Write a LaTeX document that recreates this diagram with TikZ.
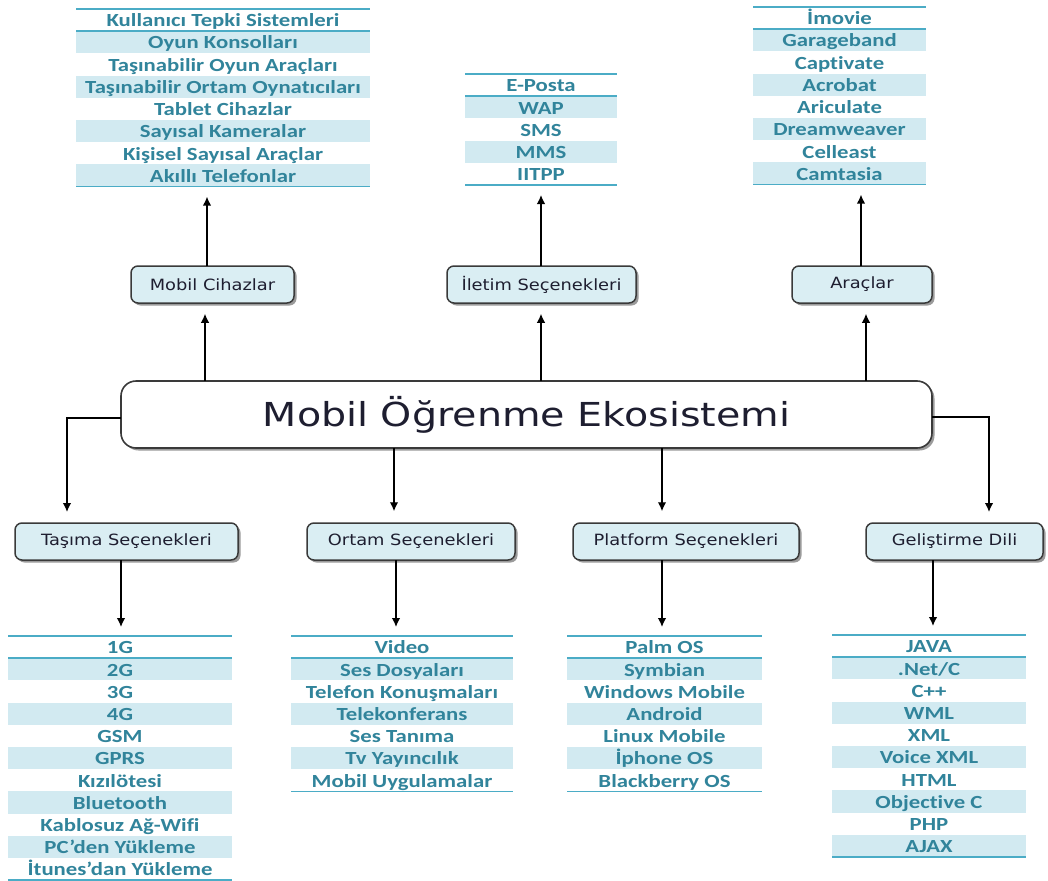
\documentclass[tikz,border=0pt]{standalone}
\usepackage{fontspec}
\setmainfont{Carlito}[Ligatures=NoCommon]
\newfontfamily\vfont{DejaVu Sans}
\usepackage{graphicx}
\usetikzlibrary{arrows.meta,shadows}
\definecolor{rowfill}{HTML}{D2EAF1}
\definecolor{rulec}{HTML}{4BACC6}
\definecolor{itemc}{HTML}{31849B}
\definecolor{catfill}{HTML}{DAEEF3}
\definecolor{bordc}{HTML}{3A3A3A}
\definecolor{cattext}{HTML}{1E1E30}
\newcommand{\hs}[2]{\scalebox{#1}[1]{#2}}
\tikzset{
  item/.style={font=\fontsize{18.5}{20}\selectfont\bfseries, text=itemc, inner sep=0pt, text height=12.5pt, text depth=3.5pt},
  rulel/.style={draw=rulec, line width=1.5pt},
  catbox/.style={draw=bordc, line width=1.5pt, fill=catfill, rounded corners=7pt, minimum height=37pt, inner sep=0pt,
     font=\vfont\fontsize{15.5}{18}\selectfont, text=cattext,
     drop shadow={shadow xshift=2.5pt, shadow yshift=-2.5pt, opacity=0.6, fill=black!65}},
  centerbox/.style={draw=bordc, line width=1.6pt, fill=white, rounded corners=15pt, minimum width=811pt, minimum height=67pt, inner sep=0pt,
     font=\vfont\fontsize{33}{36}\selectfont, text=cattext,
     drop shadow={shadow xshift=2.5pt, shadow yshift=-2.5pt, opacity=0.6, fill=black!65}},
  conn/.style={draw=black, line width=1.4pt, -{Latex[length=9pt,width=8.5pt]}},
}
\newcommand{\drawlist}[6]{%
  \foreach \t [count=\i] in {#6} {%
    \pgfmathsetmacro{\ya}{#4+(\i-1)*22.2}%
    \pgfmathsetmacro{\yb}{#4+\i*22.2}%
    \ifodd\i\relax\else\fill[rowfill] ({#2},\ya) rectangle ({#3},\yb);\fi
    \node[item] (#1-\i) at ({(#2+#3)/2},{(\ya+\yb)/2+2.2}) {\hs{1.23}{\t}};
  }%
  \draw[rulel] ({#2},{#4}) -- ({#3},{#4});
  \draw[rulel] ({#2},{#4+22.2}) -- ({#3},{#4+22.2});
  \draw[rulel] ({#2},{#4+#5*22.2}) -- ({#3},{#4+#5*22.2});
  \coordinate (#1-top) at ({(#2+#3)/2},{#4});
  \coordinate (#1-bot) at ({(#2+#3)/2},{#4+#5*22.2});
}
\begin{document}
\begin{tikzpicture}[x=1pt,y=-1pt]
\useasboundingbox (0,0) rectangle (1048,880);
\fill[white] (0,0) rectangle (1048,880);

% lists
\drawlist{L1}{76}{370}{9}{8}{Kullanıcı Tepki Sistemleri,Oyun Konsolları,Taşınabilir Oyun Araçları,Taşınabilir Ortam Oynatıcıları,Tablet Cihazlar,Sayısal Kameralar,Kişisel Sayısal Araçlar,Akıllı Telefonlar}
\drawlist{L2}{465}{617}{74}{5}{E-Posta,WAP,SMS,MMS,IITPP}
\drawlist{L3}{753}{926}{7}{8}{İmovie,Garageband,Captivate,Acrobat,Ariculate,Dreamweaver,Celleast,Camtasia}
\drawlist{L4}{8}{232}{636}{11}{1G,2G,3G,4G,GSM,GPRS,Kızılötesi,Bluetooth,Kablosuz Ağ-Wifi,PC’den Yükleme,İtunes’dan Yükleme}
\drawlist{L5}{291}{513}{636}{7}{Video,Ses Dosyaları,Telefon Konuşmaları,Telekonferans,Ses Tanıma,Tv Yayıncılık,Mobil Uygulamalar}
\drawlist{L6}{567}{762}{636}{7}{Palm OS,Symbian,Windows Mobile,Android,Linux Mobile,İphone OS,Blackberry OS}
\drawlist{L7}{832}{1026}{635}{10}{JAVA,.Net/C,C++,WML,XML,Voice XML,HTML,Objective C,PHP,AJAX}

% center
\node[centerbox] (ce) at (526.5,414.5) {\hs{1.2}{Mobil Öğrenme Ekosistemi}};

% category boxes
\node[catbox, minimum width=163pt] (mc) at (212.5,284.5) {\hs{1.15}{Mobil Cihazlar}};
\node[catbox, minimum width=189pt] (il) at (541.5,284.5) {\hs{1.15}{İletim Seçenekleri}};
\node[catbox, minimum width=140pt] (ar) at (862,284.5) {\hs{1.15}{Araçlar}};
\node[catbox, minimum width=223pt] (ts) at (126.5,541.5) {\hs{1.15}{Taşıma Seçenekleri}};
\node[catbox, minimum width=208pt] (os) at (411,541.5) {\hs{1.15}{Ortam Seçenekleri}};
\node[catbox, minimum width=226pt] (ps) at (686,541.5) {\hs{1.15}{Platform Seçenekleri}};
\node[catbox, minimum width=177pt] (gd) at (954.5,541.5) {\hs{1.15}{Geliştirme Dili}};

% connector anchor coordinates
\coordinate (c1) at (205,381);
\coordinate (c2) at (541,381);
\coordinate (c3) at (866,381);
\coordinate (m1) at (207,266);
\coordinate (m2) at (541,266);
\coordinate (m3) at (861,266);
\coordinate (cwl) at (121,418);
\coordinate (cwr) at (932,417);
\coordinate (tsin) at (67,523);
\coordinate (gdin) at (989,523);
\coordinate (c4) at (394,448);
\coordinate (c5) at (662,448);
\coordinate (b1) at (121,560);
\coordinate (b2) at (396,560);
\coordinate (b3) at (662,560);
\coordinate (b4) at (933,560);

% upward arrows
\draw[conn, shorten >=10pt] (c1) -- (c1 |- mc.south);
\draw[conn, shorten >=10pt] (c2) -- (c2 |- il.south);
\draw[conn, shorten >=10pt] (c3) -- (c3 |- ar.south);
\draw[conn, shorten >=10pt] (m1) -- (m1 |- L1-bot);
\draw[conn, shorten >=10pt] (m2) -- (m2 |- L2-bot);
\draw[conn, shorten >=10pt] (m3) -- (m3 |- L3-bot);

% downward arrows
\draw[conn, shorten >=11pt] (cwl) -| (tsin);
\draw[conn, shorten >=11pt] (cwr) -| (gdin);
\draw[conn, shorten >=11pt] (c4) -- (c4 |- os.north);
\draw[conn, shorten >=11pt] (c5) -- (c5 |- ps.north);
\draw[conn, shorten >=9pt] (b1) -- (b1 |- L4-top);
\draw[conn, shorten >=9pt] (b2) -- (b2 |- L5-top);
\draw[conn, shorten >=9pt] (b3) -- (b3 |- L6-top);
\draw[conn, shorten >=9pt] (b4) -- (b4 |- L7-top);
\end{tikzpicture}
\end{document}
